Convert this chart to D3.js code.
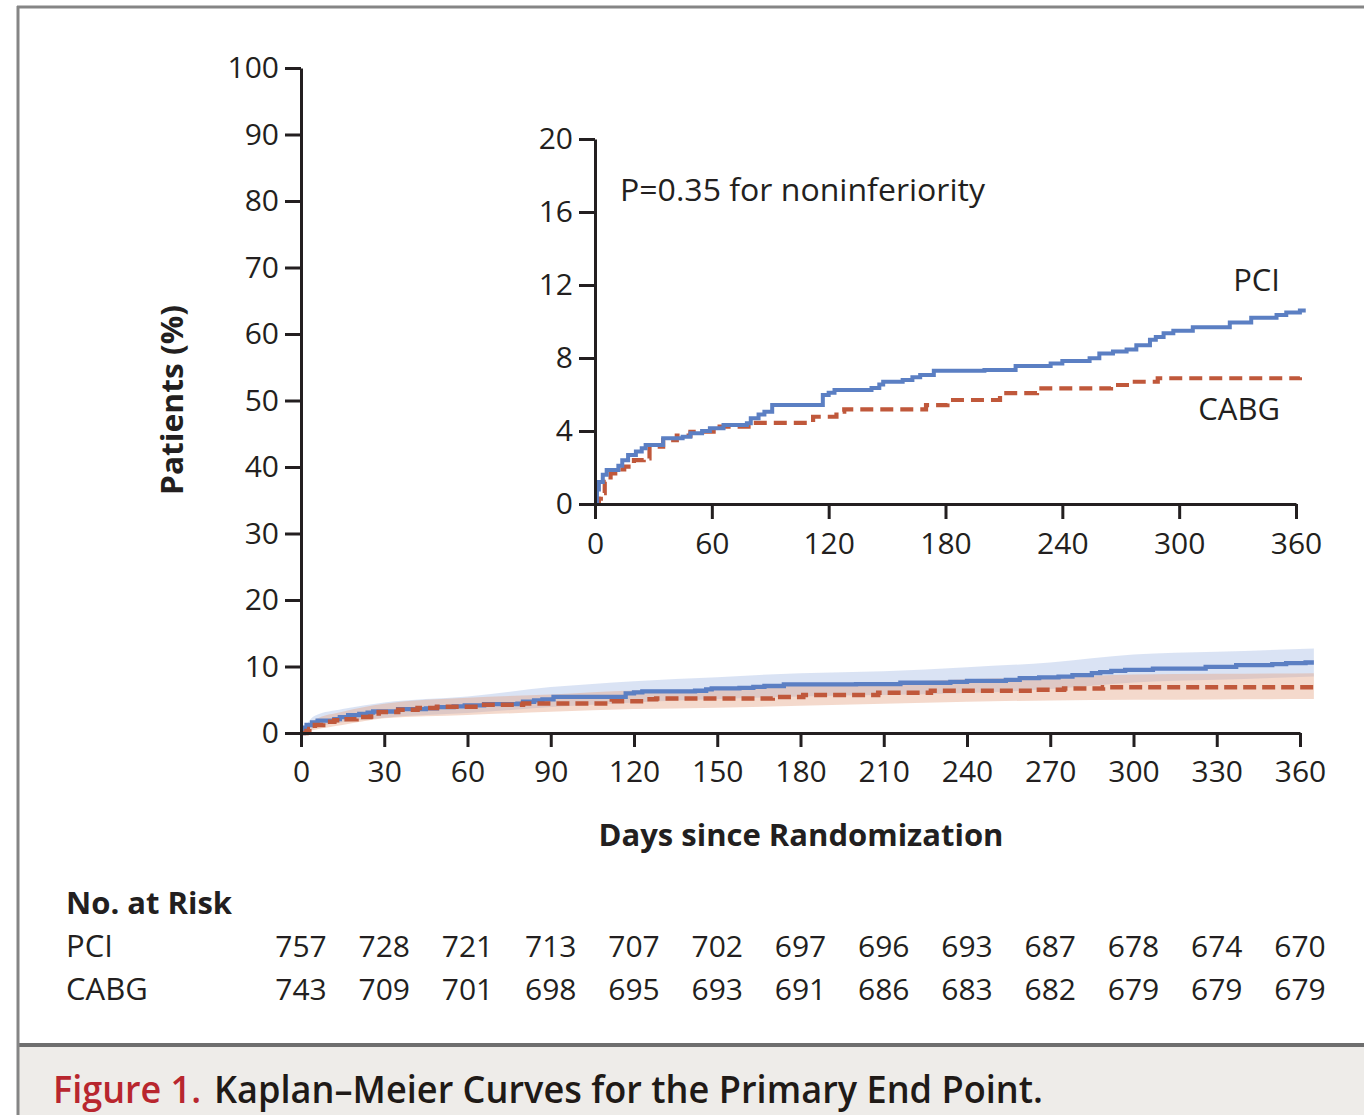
<!DOCTYPE html>
<html><head><meta charset="utf-8">
<script src="https://cdn.jsdelivr.net/npm/d3@7"></script>
<style>
html,body{margin:0;padding:0;background:#fff;}
svg{display:block;}
text{font-family:"Open Sans","Noto Sans",sans-serif;fill:#231f20;}
</style></head><body>
<svg id="c" width="1364" height="1115"></svg>
<script>
// ---------- DATA ----------
const mainXTicks = [0,30,60,90,120,150,180,210,240,270,300,330,360];
const mainYTicks = [0,10,20,30,40,50,60,70,80,90,100];
const insetXTicks = [0,60,120,180,240,300,360];
const insetYTicks = [0,4,8,12,16,20];

// Kaplan-Meier step points [day, % with event]
const pciCurve = [[0,0],[1,0.8],[2,1.2],[4,1.6],[6,1.86],[12,2.1],[14,2.4],[17,2.68],[21,2.87],[24,3.05],[26,3.23],[35,3.6],[45,3.69],[49,3.88],[55,4.0],[59,4.15],[66,4.33],[78,4.42],[80,4.7],[84,4.9],[87,5.06],[91,5.42],[117,5.97],[120,6.1],[123,6.25],[142,6.35],[146,6.55],[148,6.7],[158,6.8],[163,6.95],[167,7.07],[174,7.3],[200,7.34],[216,7.56],[234,7.7],[240,7.84],[254,7.98],[259,8.25],[266,8.35],[273,8.47],[278,8.7],[285,9.0],[288,9.15],[292,9.35],[297,9.5],[307,9.68],[326,9.95],[337,10.2],[350,10.35],[355,10.5],[362,10.6],[365,10.6]];
const cabgCurve = [[0,0],[2,0.3],[3,0.6],[5,1.22],[8,1.68],[12,1.9],[15,2.05],[20,2.4],[25,2.5],[28,3.14],[35,3.5],[42,3.75],[49,3.96],[64,4.24],[80,4.45],[112,4.78],[124,5.06],[128,5.19],[170,5.42],[181,5.7],[208,6.07],[227,6.34],[265,6.52],[275,6.7],[289,6.89],[365,6.94]];

// Confidence bands [day, lower, upper]
const pciBand = [[0,0,0],[5,0.8,2.6],[15,1.6,3.6],[30,2.3,4.6],[60,3.0,5.5],[90,3.9,6.9],[120,4.6,7.8],[150,5.1,8.4],[180,5.5,9.0],[210,5.7,9.3],[240,6.0,9.9],[270,6.6,10.6],[300,7.6,11.8],[330,8.0,12.2],[365,8.5,12.7]];
const cabgBand = [[0,0,0],[5,0.5,2.0],[15,1.2,3.2],[30,2.2,4.4],[60,2.7,5.3],[90,3.2,5.8],[120,3.6,6.4],[150,3.8,6.6],[180,4.1,7.2],[210,4.4,7.6],[240,4.7,8.1],[270,4.9,8.4],[300,5.0,8.8],[330,5.05,8.9],[365,5.1,9.0]];

const riskGroups = ["PCI","CABG"];
const riskPCI  = [757,728,721,713,707,702,697,696,693,687,678,674,670];
const riskCABG = [743,709,701,698,695,693,691,686,683,682,679,679,679];

// ---------- DRAW ----------
const svg = d3.select("#c");
const ink = "#231f20";
const blue = "#5b7fc3", red = "#c0583b";

// frame & caption band
svg.append("rect").attr("x",18).attr("y",1045).attr("width",1346).attr("height",70).attr("fill","#eeece9");
svg.append("line").attr("x1",18).attr("x2",1364).attr("y1",1045).attr("y2",1045).attr("stroke","#6e6e6e").attr("stroke-width",4);
svg.append("line").attr("x1",17).attr("x2",1364).attr("y1",7).attr("y2",7).attr("stroke","#858585").attr("stroke-width",3);
svg.append("line").attr("x1",18).attr("x2",18).attr("y1",6).attr("y2",1115).attr("stroke","#858585").attr("stroke-width",3);

svg.append("text").attr("x",53).attr("y",1103).attr("font-size",37).attr("font-weight",600)
  .attr("textLength",148).attr("lengthAdjust","spacingAndGlyphs").style("fill","#b8262e").text("Figure 1.");
svg.append("text").attr("x",214).attr("y",1103).attr("font-size",37).attr("font-weight",600)
  .attr("textLength",829).attr("lengthAdjust","spacingAndGlyphs").style("fill","#1f1a17").text("Kaplan–Meier Curves for the Primary End Point.");

// main scales
const xM = d3.scaleLinear().domain([0,360]).range([301,1300]);
const yM = d3.scaleLinear().domain([0,100]).range([733,68]);

// bands
const areaM = (d)=> d3.area().x(p=>xM(p[0])).y0(p=>yM(p[1])).y1(p=>yM(p[2])).curve(d3.curveMonotoneX)(d);
svg.append("path").attr("d",areaM(pciBand)).attr("fill","rgb(100,140,210)").attr("fill-opacity",0.24);
svg.append("path").attr("d",areaM(cabgBand)).attr("fill","rgb(228,160,128)").attr("fill-opacity",0.4);

const lineM = d3.line().x(p=>xM(p[0])).y(p=>yM(p[1])).curve(d3.curveStepAfter);
svg.append("path").attr("d",lineM(pciCurve)).attr("fill","none").attr("stroke",blue).attr("stroke-width",4.3);
svg.append("path").attr("d",lineM(cabgCurve)).attr("fill","none").attr("stroke",red).attr("stroke-width",4.5).attr("stroke-dasharray","13,6");

function styleAxis(g){
  g.select(".domain").attr("stroke",ink).attr("stroke-width",3);
  g.selectAll(".tick line").attr("stroke",ink).attr("stroke-width",3);
  g.selectAll(".tick text").attr("font-size",30).style("fill",ink).attr("font-family",'"Open Sans",sans-serif');
}
const gxM = svg.append("g").attr("transform","translate(0,733)")
  .call(d3.axisBottom(xM).tickValues(mainXTicks).tickSize(14).tickSizeOuter(0).tickPadding(14).tickFormat(d3.format("d")));
styleAxis(gxM);
const gyM = svg.append("g").attr("transform","translate(301,0)")
  .call(d3.axisLeft(yM).tickValues(mainYTicks).tickSize(16).tickSizeOuter(0).tickPadding(6).tickFormat(d3.format("d")));
styleAxis(gyM);

svg.append("text").attr("transform","translate(183,400) rotate(-90)").attr("text-anchor","middle")
  .attr("font-size",31).attr("font-weight",700).attr("textLength",190).attr("lengthAdjust","spacingAndGlyphs").text("Patients (%)");
svg.append("text").attr("x",801).attr("y",846).attr("text-anchor","middle")
  .attr("font-size",31).attr("font-weight",700).text("Days since Randomization");

// inset
const xI = d3.scaleLinear().domain([0,360]).range([595,1296]);
const yI = d3.scaleLinear().domain([0,20]).range([504,139]);
const lineI = d3.line().x(p=>xI(p[0])).y(p=>yI(p[1])).curve(d3.curveStepAfter);
svg.append("path").attr("d",lineI(cabgCurve.filter(p=>p[0]<=362).concat([[362,6.94]]))).attr("fill","none").attr("stroke",red).attr("stroke-width",4.2).attr("stroke-dasharray","13,7");
svg.append("path").attr("d",lineI(pciCurve)).attr("fill","none").attr("stroke",blue).attr("stroke-width",4);

const gxI = svg.append("g").attr("transform","translate(0,504)")
  .call(d3.axisBottom(xI).tickValues(insetXTicks).tickSize(15).tickSizeOuter(0).tickPadding(14).tickFormat(d3.format("d")));
styleAxis(gxI);
const gyI = svg.append("g").attr("transform","translate(595,0)")
  .call(d3.axisLeft(yI).tickValues(insetYTicks).tickSize(16).tickSizeOuter(0).tickPadding(6).tickFormat(d3.format("d")));
styleAxis(gyI);

svg.append("text").attr("x",620).attr("y",201).attr("font-size",31).attr("textLength",365).attr("lengthAdjust","spacingAndGlyphs").text("P=0.35 for noninferiority");
svg.append("text").attr("x",1280).attr("y",291).attr("text-anchor","end").attr("font-size",31).text("PCI");
svg.append("text").attr("x",1280).attr("y",420).attr("text-anchor","end").attr("font-size",31).text("CABG");

// number at risk
svg.append("text").attr("x",66).attr("y",914).attr("font-size",31).attr("font-weight",700).text("No. at Risk");
const riskRows = [riskPCI, riskCABG];
const rowY = [957, 1000];
riskGroups.forEach((g,i)=>{
  svg.append("text").attr("x",66).attr("y",rowY[i]).attr("font-size",31).text(g);
  svg.selectAll(null).data(riskRows[i]).enter().append("text")
    .attr("x",(d,j)=>xM(mainXTicks[j])).attr("y",rowY[i]).attr("text-anchor","middle")
    .attr("font-size",30).text(d=>d);
});
</script>
</body></html>
